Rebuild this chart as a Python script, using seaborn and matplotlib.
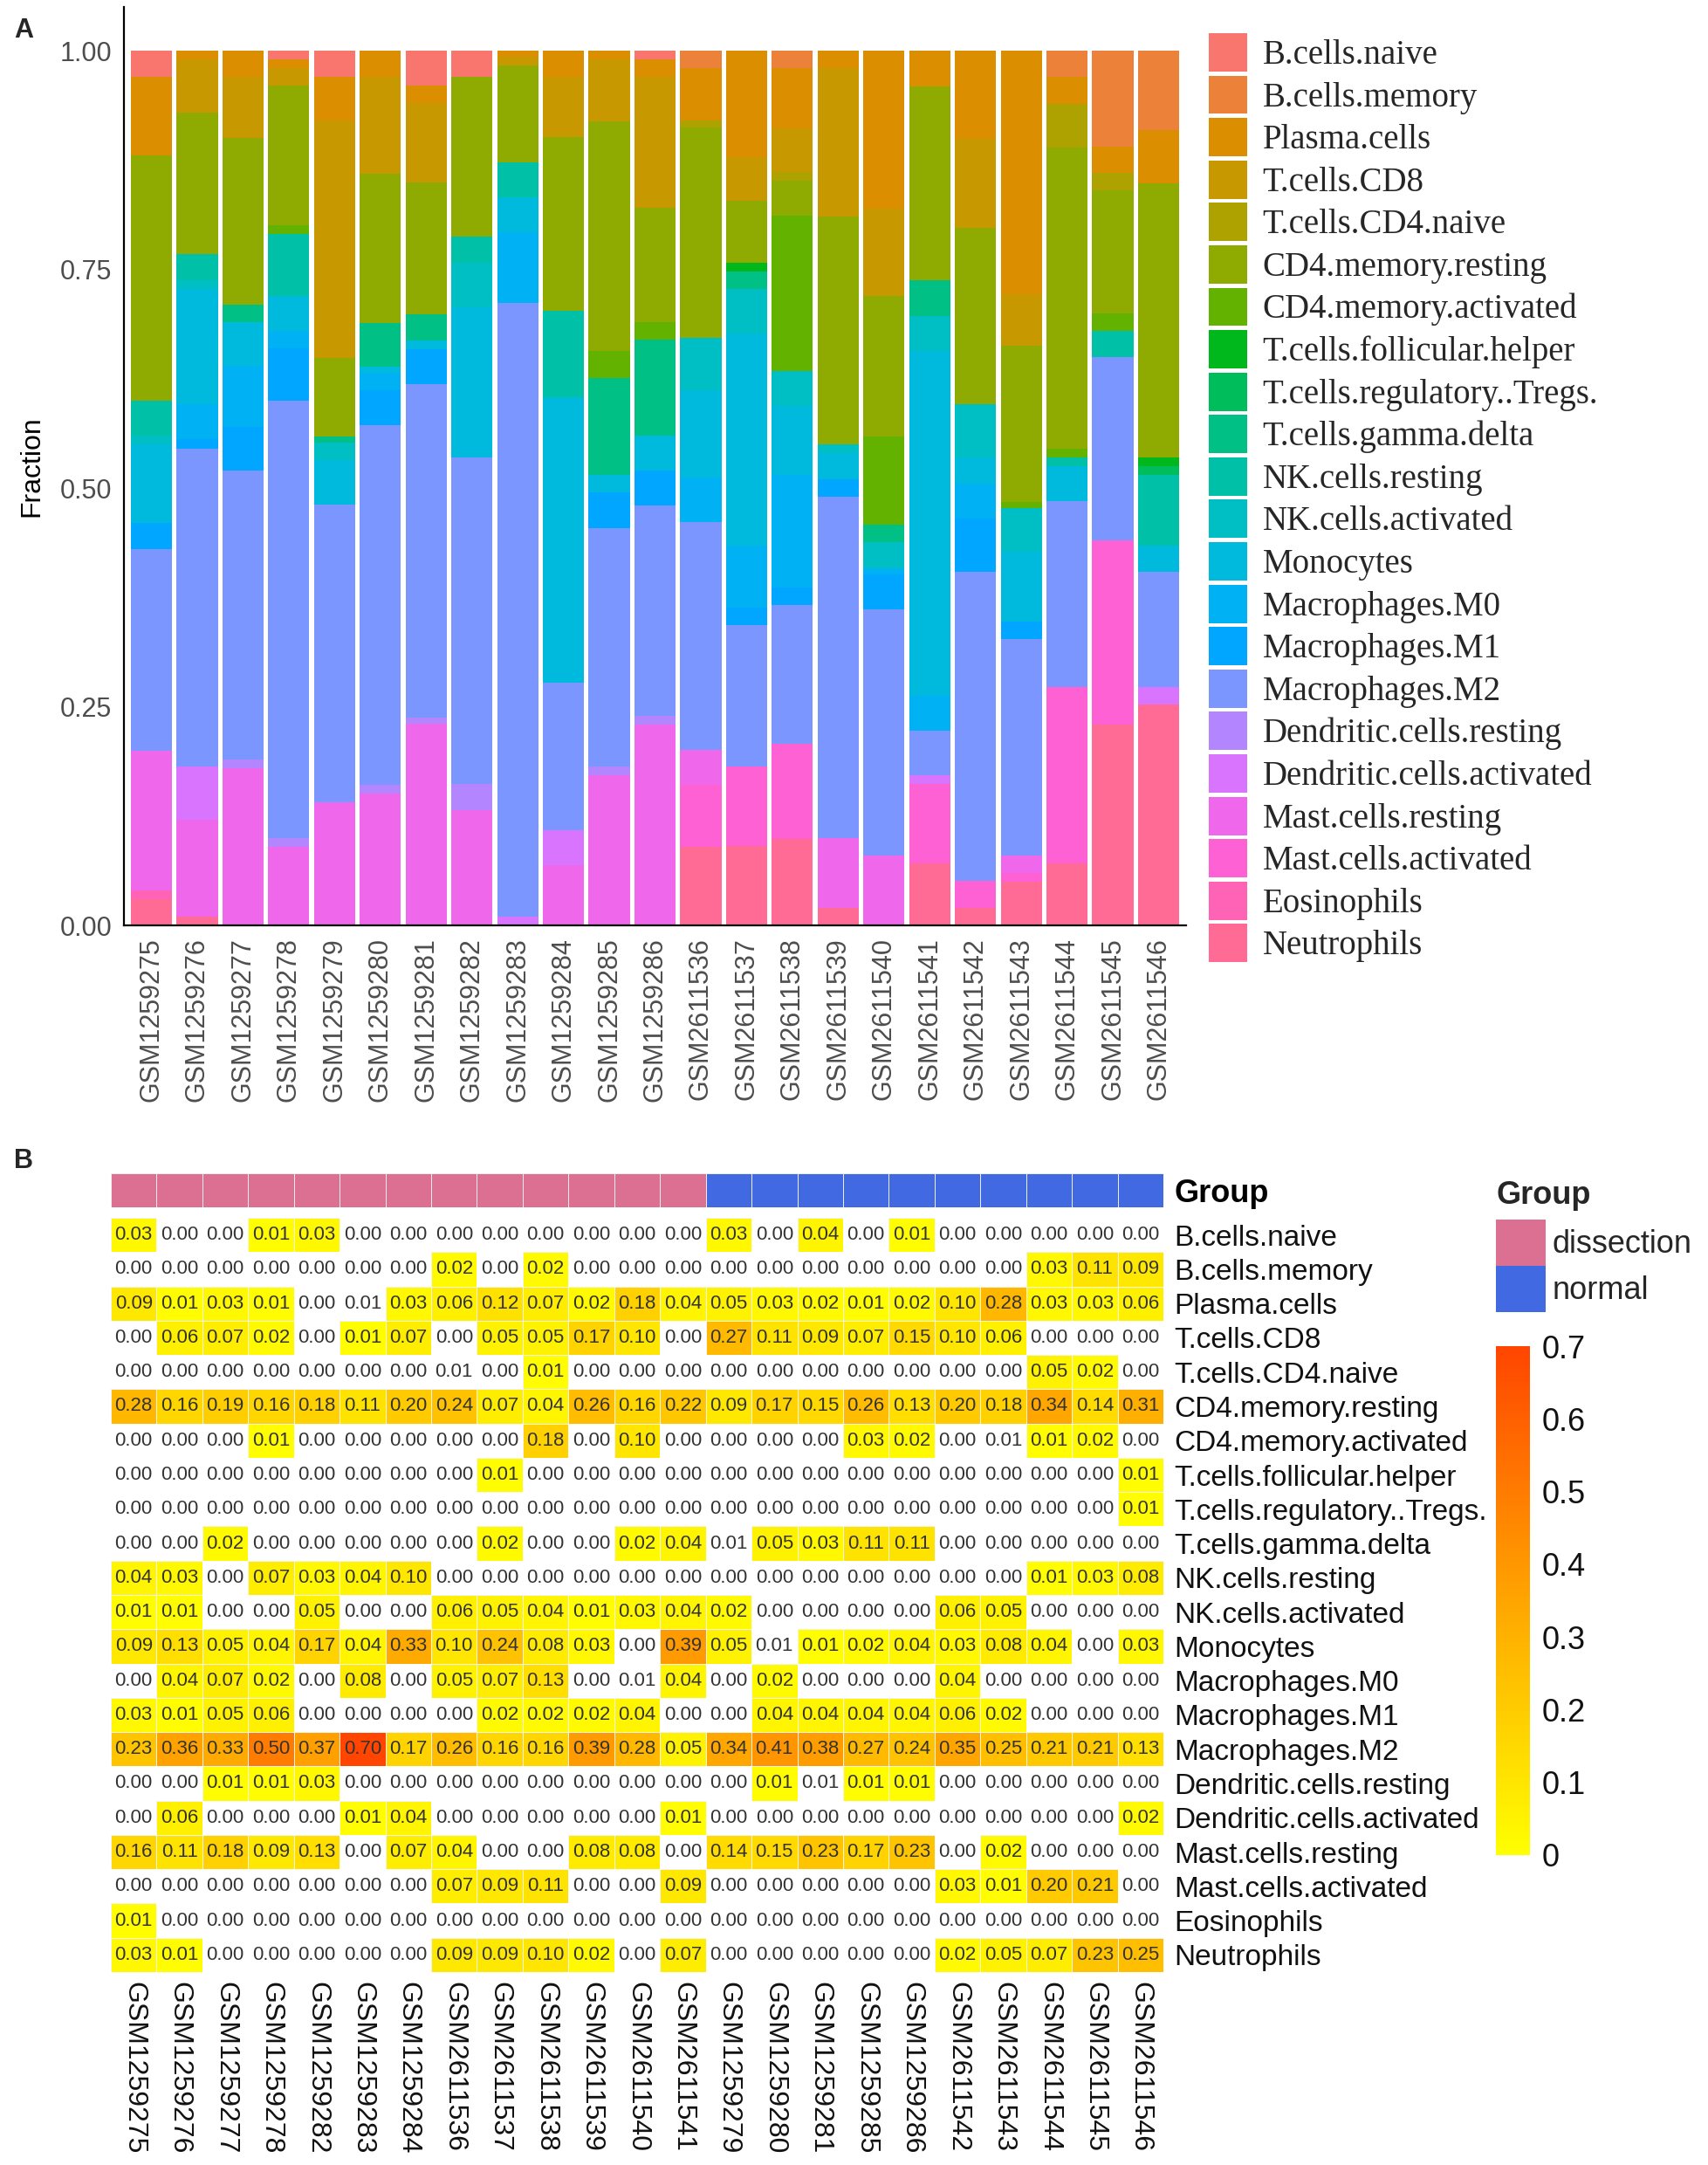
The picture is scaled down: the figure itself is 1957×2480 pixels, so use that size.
import numpy as np
import pandas as pd
import matplotlib
matplotlib.use("Agg")
import matplotlib.pyplot as plt
import seaborn as sns
from matplotlib.colors import ListedColormap, LinearSegmentedColormap
from matplotlib.patches import Patch

# ---------------- data ----------------
cell_types = ["B.cells.naive", "B.cells.memory", "Plasma.cells", "T.cells.CD8",
              "T.cells.CD4.naive", "CD4.memory.resting", "CD4.memory.activated",
              "T.cells.follicular.helper", "T.cells.regulatory..Tregs.",
              "T.cells.gamma.delta", "NK.cells.resting", "NK.cells.activated",
              "Monocytes", "Macrophages.M0", "Macrophages.M1", "Macrophages.M2",
              "Dendritic.cells.resting", "Dendritic.cells.activated",
              "Mast.cells.resting", "Mast.cells.activated", "Eosinophils", "Neutrophils"]

heat_samples = ["GSM1259275", "GSM1259276", "GSM1259277", "GSM1259278", "GSM1259282",
                "GSM1259283", "GSM1259284", "GSM2611536", "GSM2611537", "GSM2611538",
                "GSM2611539", "GSM2611540", "GSM2611541", "GSM1259279", "GSM1259280",
                "GSM1259281", "GSM1259285", "GSM1259286", "GSM2611542", "GSM2611543",
                "GSM2611544", "GSM2611545", "GSM2611546"]

heat_groups = ["dissection", "dissection", "dissection", "dissection", "dissection",
               "dissection", "dissection", "dissection", "dissection", "dissection",
               "dissection", "dissection", "dissection", "normal", "normal", "normal",
               "normal", "normal", "normal", "normal", "normal", "normal", "normal"]

bar_samples = ["GSM1259275", "GSM1259276", "GSM1259277", "GSM1259278", "GSM1259279",
               "GSM1259280", "GSM1259281", "GSM1259282", "GSM1259283", "GSM1259284",
               "GSM1259285", "GSM1259286", "GSM2611536", "GSM2611537", "GSM2611538",
               "GSM2611539", "GSM2611540", "GSM2611541", "GSM2611542", "GSM2611543",
               "GSM2611544", "GSM2611545", "GSM2611546"]

# fractions per cell type, in heat_samples order
b_cells_naive = [0.03, 0, 0, 0.01, 0.03, 0, 0, 0, 0, 0, 0, 0, 0,
                 0.03, 0, 0.04, 0, 0.01, 0, 0, 0, 0, 0]
b_cells_memory = [0, 0, 0, 0, 0, 0, 0, 0.02, 0, 0.02, 0, 0, 0,
                  0, 0, 0, 0, 0, 0, 0, 0.03, 0.11, 0.09]
plasma_cells = [0.09, 0.01, 0.03, 0.01, 0, 0.007, 0.03, 0.06, 0.12, 0.07, 0.02, 0.18, 0.04,
                0.05, 0.03, 0.02, 0.01, 0.02, 0.10, 0.28, 0.03, 0.03, 0.06]
t_cells_cd8 = [0, 0.06, 0.07, 0.02, 0, 0.01, 0.07, 0, 0.05, 0.05, 0.17, 0.10, 0,
               0.27, 0.11, 0.09, 0.07, 0.15, 0.10, 0.06, 0, 0, 0]
t_cells_cd4_naive = [0, 0, 0, 0, 0, 0, 0, 0.007, 0, 0.01, 0, 0, 0,
                     0, 0, 0, 0, 0, 0, 0, 0.05, 0.02, 0]
cd4_memory_resting = [0.28, 0.16, 0.19, 0.16, 0.18, 0.11, 0.20, 0.24, 0.07, 0.04, 0.26, 0.16, 0.22,
                      0.09, 0.17, 0.15, 0.26, 0.13, 0.20, 0.18, 0.34, 0.14, 0.31]
cd4_memory_activated = [0, 0, 0, 0.01, 0, 0, 0, 0, 0, 0.18, 0, 0.10, 0,
                        0, 0, 0, 0.03, 0.02, 0, 0.007, 0.01, 0.02, 0]
t_cells_follicular_helper = [0, 0, 0, 0, 0, 0, 0, 0, 0.01, 0, 0, 0, 0,
                             0, 0, 0, 0, 0, 0, 0, 0, 0, 0.01]
t_cells_regulatory = [0, 0, 0, 0, 0, 0, 0, 0, 0, 0, 0, 0, 0,
                      0, 0, 0, 0, 0, 0, 0, 0, 0, 0.01]
t_cells_gamma_delta = [0, 0, 0.02, 0, 0, 0, 0, 0, 0.02, 0, 0, 0.02, 0.04,
                       0.007, 0.05, 0.03, 0.11, 0.11, 0, 0, 0, 0, 0]
nk_cells_resting = [0.04, 0.03, 0, 0.07, 0.03, 0.04, 0.10, 0, 0, 0, 0, 0, 0,
                    0, 0, 0, 0, 0, 0, 0, 0.01, 0.03, 0.08]
nk_cells_activated = [0.01, 0.01, 0, 0, 0.05, 0, 0, 0.06, 0.05, 0.04, 0.01, 0.03, 0.04,
                      0.02, 0, 0, 0, 0, 0.06, 0.05, 0, 0, 0]
monocytes = [0.09, 0.13, 0.05, 0.04, 0.17, 0.04, 0.33, 0.10, 0.24, 0.08, 0.03, 0, 0.39,
             0.05, 0.007, 0.01, 0.02, 0.04, 0.03, 0.08, 0.04, 0, 0.03]
macrophages_m0 = [0, 0.04, 0.07, 0.02, 0, 0.08, 0, 0.05, 0.07, 0.13, 0, 0.007, 0.04,
                  0, 0.02, 0, 0, 0, 0.04, 0, 0, 0, 0]
macrophages_m1 = [0.03, 0.01, 0.05, 0.06, 0, 0, 0, 0, 0.02, 0.02, 0.02, 0.04, 0,
                  0, 0.04, 0.04, 0.04, 0.04, 0.06, 0.02, 0, 0, 0]
macrophages_m2 = [0.23, 0.36, 0.33, 0.50, 0.37, 0.70, 0.17, 0.26, 0.16, 0.16, 0.39, 0.28, 0.05,
                  0.34, 0.41, 0.38, 0.27, 0.24, 0.35, 0.25, 0.21, 0.21, 0.13]
dendritic_cells_resting = [0, 0, 0.01, 0.01, 0.03, 0, 0, 0, 0, 0, 0, 0, 0,
                           0, 0.01, 0.007, 0.01, 0.01, 0, 0, 0, 0, 0]
dendritic_cells_activated = [0, 0.06, 0, 0, 0, 0.01, 0.04, 0, 0, 0, 0, 0, 0.01,
                             0, 0, 0, 0, 0, 0, 0, 0, 0, 0.02]
mast_cells_resting = [0.16, 0.11, 0.18, 0.09, 0.13, 0, 0.07, 0.04, 0, 0, 0.08, 0.08, 0,
                      0.14, 0.15, 0.23, 0.17, 0.23, 0, 0.02, 0, 0, 0]
mast_cells_activated = [0, 0, 0, 0, 0, 0, 0, 0.07, 0.09, 0.11, 0, 0, 0.09,
                        0, 0, 0, 0, 0, 0.03, 0.01, 0.20, 0.21, 0]
eosinophils = [0.01, 0, 0, 0, 0, 0, 0, 0, 0, 0, 0, 0, 0,
               0, 0, 0, 0, 0, 0, 0, 0, 0, 0]
neutrophils = [0.03, 0.01, 0, 0, 0, 0, 0, 0.09, 0.09, 0.10, 0.02, 0, 0.07,
               0, 0, 0, 0, 0, 0.02, 0.05, 0.07, 0.23, 0.25]

rows = [b_cells_naive, b_cells_memory, plasma_cells, t_cells_cd8, t_cells_cd4_naive,
        cd4_memory_resting, cd4_memory_activated, t_cells_follicular_helper,
        t_cells_regulatory, t_cells_gamma_delta, nk_cells_resting, nk_cells_activated,
        monocytes, macrophages_m0, macrophages_m1, macrophages_m2,
        dendritic_cells_resting, dendritic_cells_activated, mast_cells_resting,
        mast_cells_activated, eosinophils, neutrophils]

frac = pd.DataFrame(np.array(rows, dtype=float), index=cell_types, columns=heat_samples)


# ---------------- colours ----------------
def hcl_hex(h, c=100.0, l=65.0):
    Xn, Yn, Zn = 95.047, 100.0, 108.883
    hr = np.deg2rad(h)
    U, V = c * np.cos(hr), c * np.sin(hr)
    Y = Yn * (((l + 16) / 116) ** 3 if l > 8 else l / 903.3)
    den = Xn + 15 * Yn + 3 * Zn
    uN, vN = 4 * Xn / den, 9 * Yn / den
    u = U / (13 * l) + uN
    v = V / (13 * l) + vN
    X = 9.0 * Y * u / (4 * v)
    Z = -X / 3 - 5 * Y + 3 * Y / v
    X, Y, Z = X / 100, Y / 100, Z / 100
    r = 3.240479 * X - 1.537150 * Y - 0.498535 * Z
    g = -0.969256 * X + 1.875992 * Y + 0.041556 * Z
    b = 0.055648 * X - 0.204043 * Y + 1.057311 * Z

    def gam(t):
        return 12.92 * t if t <= 0.0031308 else 1.055 * t ** (1 / 2.4) - 0.055
    rgb = [min(max(gam(t), 0.0), 1.0) for t in (r, g, b)]
    return "#%02X%02X%02X" % tuple(int(round(255 * t)) for t in rgb)


n_ct = len(cell_types)
cell_colors = [hcl_hex(15 + i * 360.0 / n_ct) for i in range(n_ct)]
group_colors = {"dissection": "#DB7093", "normal": "#4169E1"}

# ---------------- figure ----------------
sns.set_theme(style="white")
plt.rcParams["font.family"] = ["Liberation Sans", "DejaVu Sans"]

W, H = 1957, 2480
fig = plt.figure(figsize=(W / 100, H / 100), dpi=100)


def rect(x0, y0, x1, y1):
    return [x0 / W, 1 - y1 / H, (x1 - x0) / W, (y1 - y0) / H]


# ---- Panel A: stacked bars ----
axA = fig.add_axes(rect(142, 8, 1359, 1060))
bar_frac = frac[bar_samples]
bar_frac = bar_frac / bar_frac.sum(axis=0)
cum = bar_frac.iloc[::-1].cumsum(axis=0).iloc[::-1]
for ct, col in zip(cell_types, cell_colors):
    sns.barplot(x=bar_samples, y=cum.loc[ct].values, order=bar_samples, color=col,
                saturation=1, width=0.9, errorbar=None, linewidth=0, ax=axA)
axA.set_xlim(-0.6, len(bar_samples) - 0.4)
axA.set_ylim(0, 1.05)
axA.set_yticks([0, 0.25, 0.5, 0.75, 1.0])
axA.set_yticklabels(["0.00", "0.25", "0.50", "0.75", "1.00"])
axA.set_xlabel("")
axA.set_ylabel("Fraction", fontsize=23, color="black", labelpad=12)
sns.despine(ax=axA)
for s in ["left", "bottom"]:
    axA.spines[s].set_linewidth(1.6)
    axA.spines[s].set_color("black")
axA.tick_params(axis="both", length=6, width=1.4, color="#333333",
                labelcolor="#4D4D4D", direction="out")
axA.tick_params(axis="y", labelsize=22, pad=4)
axA.tick_params(axis="x", labelsize=22, pad=4, labelrotation=90)

handlesA = [Patch(facecolor=c, edgecolor="none", linewidth=0) for c in cell_colors]
fig.legend(handlesA, cell_types, loc="upper left", bbox_to_anchor=(1385 / W, 1 - 38 / H),
           frameon=False, prop={"family": "Liberation Serif", "size": 28},
           handlelength=1.13, handleheight=1.36, labelspacing=0.12,
           handletextpad=0.45, borderpad=0, borderaxespad=0)

fig.text(16 / W, 1 - 35 / H, "A", fontsize=22, weight="bold", va="center", ha="left")
fig.text(16 / W, 1 - 1330 / H, "B", fontsize=22, weight="bold", va="center", ha="left")

# ---- Panel B: heatmap ----
axG = fig.add_axes(rect(127, 1344, 1333, 1383))
axH = fig.add_axes(rect(127, 1395, 1333, 2259))
axC = fig.add_axes(rect(1714, 1542, 1753, 2125))

grp = pd.DataFrame([[0 if g == "dissection" else 1 for g in heat_groups]],
                   index=["Group"], columns=heat_samples)
sns.heatmap(grp, ax=axG, cmap=ListedColormap([group_colors["dissection"], group_colors["normal"]]),
            vmin=-0.5, vmax=1.5, cbar=False, linewidths=0.6, linecolor="#EDEDED",
            xticklabels=False, yticklabels=["Group"])
axG.yaxis.tick_right()
axG.tick_params(axis="y", length=0, pad=9, labelsize=26, labelrotation=0)
for t in axG.get_yticklabels():
    t.set_fontweight("bold")
    t.set_color("black")

heat_cmap = LinearSegmentedColormap.from_list("yor", ["#FFFF00", "#FFA500", "#FF4500"])
white_mask = frac.values < 0.01
annot_kw = {"size": 16, "color": "#333333"}
sns.heatmap(frac, ax=axH, cmap=heat_cmap, vmin=0, vmax=0.7, mask=white_mask,
            annot=True, fmt=".2f", annot_kws=annot_kw, cbar=True, cbar_ax=axC,
            linewidths=0.4, linecolor="#F2F2F2", xticklabels=True, yticklabels=True)
sns.heatmap(frac, ax=axH, cmap=ListedColormap(["white"]), mask=~white_mask,
            annot=True, fmt=".2f", annot_kws=annot_kw, cbar=False,
            linewidths=0, xticklabels=True, yticklabels=True)
axH.yaxis.tick_right()
axH.set_yticklabels(cell_types, rotation=0)
axH.set_xticklabels(heat_samples, rotation=270)
axH.tick_params(axis="y", length=0, pad=9, labelsize=24, labelcolor="#111111")
axH.tick_params(axis="x", length=0, pad=8, labelsize=23, labelcolor="#111111")
axH.set_xlabel("")
axH.set_ylabel("")

cb = axH.collections[0].colorbar
cb.outline.set_visible(False)
cb.set_ticks([0, 0.1, 0.2, 0.3, 0.4, 0.5, 0.6, 0.7])
cb.set_ticklabels(["0", "0.1", "0.2", "0.3", "0.4", "0.5", "0.6", "0.7"])
axC.tick_params(length=0, pad=10, labelsize=26, labelcolor="#111111")

handlesG = [Patch(facecolor=group_colors["dissection"], edgecolor="none"),
            Patch(facecolor=group_colors["normal"], edgecolor="none")]
legG = fig.legend(handlesG, ["dissection", "normal"], title="Group", loc="upper left",
                  bbox_to_anchor=(1714 / W, 1 - 1352 / H), frameon=False,
                  fontsize=26, title_fontproperties={"weight": "bold", "size": 26},
                  alignment="left", handlelength=1.58, handleheight=1.88, labelspacing=0.0,
                  handletextpad=0.22, borderpad=0, borderaxespad=0)
legG._legend_box.sep = 7

fig.savefig("out.png", dpi=100)
